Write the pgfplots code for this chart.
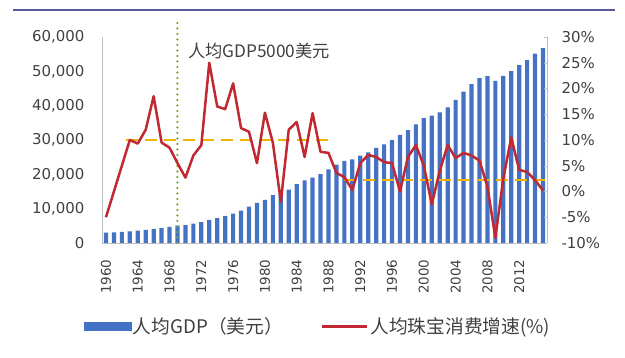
\documentclass[border=0pt]{standalone}
\usepackage{pgfplots}
\pgfplotsset{compat=1.18}
\usepackage{fontspec}
\setmainfont{DejaVu Sans}
\newfontfamily\cjk{Noto Sans CJK SC}
\definecolor{barblue}{RGB}{68,114,196}
\definecolor{linered}{RGB}{192,40,50}
\definecolor{dashyellow}{RGB}{240,180,0}
\definecolor{dotgreen}{RGB}{120,165,50}
\definecolor{txt}{RGB}{64,64,64}
\definecolor{topline}{RGB}{90,90,160}
\pgfplotstableread{
year gdp
1960 3007
1961 3067
1962 3244
1963 3375
1964 3574
1965 3828
1966 4146
1967 4336
1968 4696
1969 5032
1970 5234
1971 5609
1972 6094
1973 6726
1974 7226
1975 7801
1976 8592
1977 9453
1978 10565
1979 11674
1980 12575
1981 13976
1982 14434
1983 15544
1984 17121
1985 18237
1986 19071
1987 20039
1988 21417
1989 22857
1990 23889
1991 24342
1992 25419
1993 26387
1994 27695
1995 28691
1996 29968
1997 31459
1998 32854
1999 34515
2000 36335
2001 37133
2002 38023
2003 39497
2004 41713
2005 44115
2006 46299
2007 48050
2008 48571
2009 47195
2010 48651
2011 50066
2012 51784
2013 53291
2014 55124
2015 56763
}\gdptable
\pgfplotstableread{
year g
1960 -5
1961 0
1962 5
1963 10
1964 9.3
1965 12
1966 18.5
1967 9.5
1968 8.5
1969 5.5
1970 2.7
1971 7
1972 9
1973 25
1974 16.5
1975 16
1976 21
1977 12.3
1978 11.6
1979 5.5
1980 15.3
1981 9.5
1982 -2
1983 12
1984 13.5
1985 6.7
1986 15.2
1987 7.7
1988 7.5
1989 3.6
1990 2.8
1991 0.3
1992 5.5
1993 7.1
1994 6.7
1995 5.7
1996 5.5
1997 0
1998 6.7
1999 9
2000 5
2001 -2.5
2002 4
2003 9
2004 6.5
2005 7.5
2006 7
2007 6
2008 1
2009 -9
2010 2.5
2011 10.5
2012 4.2
2013 3.8
2014 2.2
2015 0.2
}\growthtable
\begin{document}
\begin{tikzpicture}
\begin{axis}[
  at={(102bp,115bp)}, anchor=south west,
  scale only axis, width=445bp, height=206bp,
  xmin=1959.5, xmax=2015.5, ymin=0, ymax=60000,
  scaled y ticks=false, scaled x ticks=false,
  axis x line*=bottom, axis y line*=left,
  axis line style={-, draw=gray!50},
  major tick length=0pt,
  xtick={1960,1964,1968,1972,1976,1980,1984,1988,1992,1996,2000,2004,2008,2012},
  xticklabels={1960,1964,1968,1972,1976,1980,1984,1988,1992,1996,2000,2004,2008,2012},
  xticklabel style={rotate=90, anchor=east, font=\fontsize{13.5}{15}\selectfont, text=txt},
  xticklabel shift=13bp,
  ytick={0,10000,20000,30000,40000,50000,60000},
  yticklabels={0,{10,000},{20,000},{30,000},{40,000},{50,000},{60,000}},
  yticklabel style={font=\fontsize{15}{17}\selectfont, text=txt},
  yticklabel shift=14bp,
]
\addplot[ybar, bar width=4.2bp, fill=barblue, draw=none] table[x=year, y=gdp] {\gdptable};
\end{axis}
\begin{axis}[
  at={(102bp,115bp)}, anchor=south west,
  scale only axis, width=445bp, height=206bp,
  xmin=1959.5, xmax=2015.5, ymin=-10, ymax=30,
  axis x line=none, axis y line*=right,
  axis line style={-, draw=gray!50},
  tick align=inside, major tick length=3bp,
  ytick style={draw=gray!50},
  ytick={-10,-5,0,5,10,15,20,25,30},
  yticklabels={-10\%,-5\%,0\%,5\%,10\%,15\%,20\%,25\%,30\%},
  yticklabel style={font=\fontsize{15}{17}\selectfont, text=txt},
  yticklabel shift=11bp,
  clip=false,
  legend style={at={(0.485,-0.405)}, anchor=center, draw=none, fill=none,
    legend columns=2, font=\cjk\fontsize{18.8}{21}\selectfont, text=txt,
    /tikz/every even column/.append style={column sep=36bp}},
  legend cell align=left,
]
\addlegendimage{legend image code/.code={\fill[barblue] (0bp,-4bp) rectangle (47bp,4bp);}}
\addlegendentry{人均GDP（美元）}
\addlegendimage{legend image code/.code={\draw[linered, line width=2.5bp] (0bp,0bp) -- (45bp,0bp);}}
\addlegendentry{人均珠宝消费增速(\%)}
\addplot[dashyellow, line width=2.5bp, dash pattern=on 12bp off 7bp, forget plot] coordinates {(1962.5,10) (1988,10)};
\addplot[dashyellow, line width=2.5bp, dash pattern=on 12bp off 7bp, forget plot] coordinates {(1990,2.2) (2015.2,2.2)};
\addplot[dotgreen, line width=2.5bp, line cap=round, dash pattern=on 0bp off 5.5bp, forget plot] coordinates {(1969,-10) (1969,32.8)};
\addplot[linered, line width=2.5bp, line join=round, forget plot] table[x=year, y=g] {\growthtable};
\node[anchor=west, font=\cjk\fontsize{17.3}{19}\selectfont, text=txt] at (axis cs:1969.9,27.2) {人均GDP5000美元};
\end{axis}
\draw[topline, line width=1.5bp] (13bp,348bp) -- (615bp,348bp);
\pgfresetboundingbox
\path[use as bounding box] (0bp,0bp) rectangle (625bp,358bp);
\end{tikzpicture}
\end{document}
